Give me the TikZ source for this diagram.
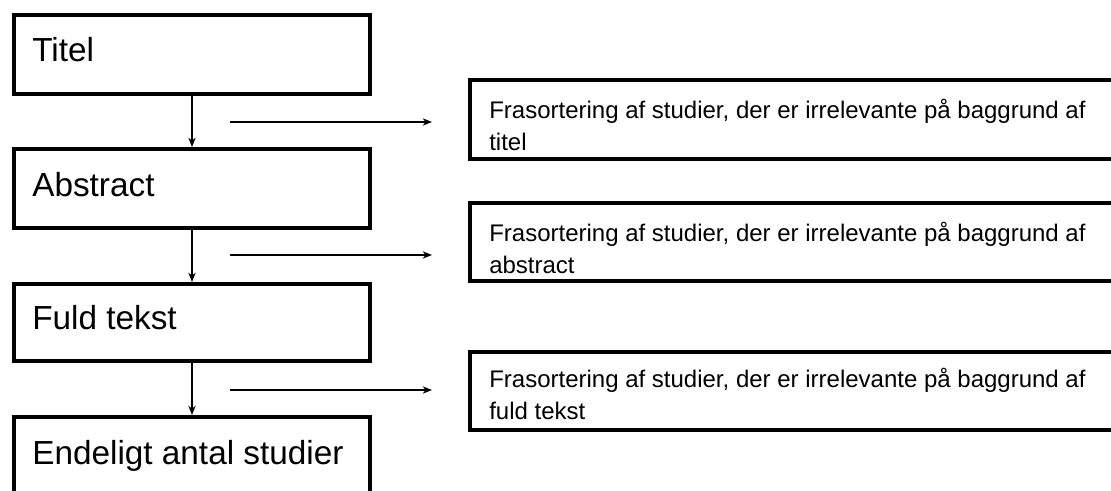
\documentclass[tikz,border=0pt]{standalone}
\usepackage{fontspec}
\setmainfont{Liberation Sans}
\usetikzlibrary{fit,arrows.meta}

\tikzset{
  stagebox/.style={draw=black, line width=3pt, rectangle, inner sep=0pt, fill=white},
  notebox/.style={draw=black, line width=3pt, rectangle, inner sep=0pt, fill=white},
  stagetext/.style={anchor=base west, inner sep=0pt, font=\fontsize{25}{30}\selectfont},
  notetext/.style={anchor=base west, inner sep=0pt, align=left,
                   font=\fontsize{18}{24}\selectfont},
  flow/.style={line width=0.9pt, -{Stealth[length=7pt,width=5.5pt]}},
}

\begin{document}
\begin{tikzpicture}[x=0.75pt, y=-0.75pt]
  \useasboundingbox (0,0) rectangle (1111,491);
  \clip (0,0) rectangle (1111,491);

  % stage boxes on the left
  \node[stagebox, fit={(14,15) (370,94)}]  (titel) {};
  \node[stagebox, fit={(14,149) (370,228)}] (abstract) {};
  \node[stagebox, fit={(14,284) (370,361)}] (fuld) {};
  \node[stagebox, fit={(14,417) (370,520)}] (endeligt) {};

  \node[stagetext] (titelT)    at (32,62)  {Titel};
  \node[stagetext] (abstractT) at (32,197) {Abstract};
  \node[stagetext] (fuldT)     at (32,330) {Fuld tekst};
  \node[stagetext] (endeligtT) at (32,465) {Endeligt antal studier};

  % exclusion boxes on the right
  \node[notebox, fit={(470,80) (1130,159)}]  (ex1) {};
  \node[notebox, fit={(470,203) (1130,281)}] (ex2) {};
  \node[notebox, fit={(470,352) (1130,430)}] (ex3) {};

  % the base anchor sits on the last line of each two-line text
  \node[notetext] (ex1T) at (489,151) {Frasortering af studier, der er irrelevante på baggrund af\\titel};
  \node[notetext] (ex2T) at (489,274) {Frasortering af studier, der er irrelevante på baggrund af\\abstract};
  \node[notetext] (ex3T) at (489,420) {Frasortering af studier, der er irrelevante på baggrund af\\fuld tekst};

  % flow between the stages
  \draw[flow] (titel.south) -- (abstract.north);
  \draw[flow] (abstract.south) -- (fuld.north);
  \draw[flow] (fuld.south) -- (endeligt.north);

  % side arrows towards the exclusions
  \coordinate (a1s) at (230,122);
  \coordinate (a1e) at (432,122);
  \coordinate (a2s) at (230,255);
  \coordinate (a2e) at (432,255);
  \coordinate (a3s) at (230,390);
  \coordinate (a3e) at (432,390);
  \draw[flow] (a1s) -- (a1e);
  \draw[flow] (a2s) -- (a2e);
  \draw[flow] (a3s) -- (a3e);
\end{tikzpicture}
\end{document}
